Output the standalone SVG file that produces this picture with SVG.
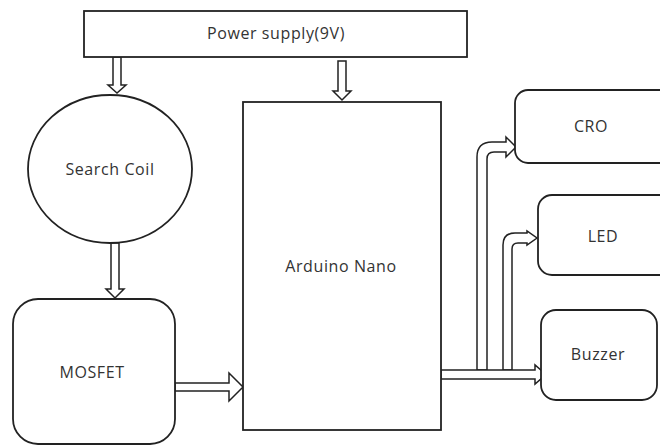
<svg xmlns="http://www.w3.org/2000/svg" width="660" height="446" viewBox="0 0 660 446">
<style>
.box{fill:#fff;stroke:#222;stroke-width:1.8}
.arr{fill:#fff;stroke:#222;stroke-width:1.5;stroke-linejoin:miter}
.lbl{font-family:"Open Sans","Noto Sans",sans-serif;font-size:16px;letter-spacing:0.6px;fill:#333;text-anchor:middle}
</style>
<rect width="660" height="446" fill="#fff"/>
<g id="connectors">
<path class="arr" d="M113,57 V85 H108 L117,93 L126,85 H121 V57 Z"/>
<path class="arr" d="M338,61 V91 H333 L342,100 L351,91 H346 V61 Z"/>
<path class="arr" d="M111,243 V289 H106 L115,298 L124,289 H119 V243 Z"/>
<path class="arr" d="M175,383 H229 V373 L243,387 L229,401 V391 H175 Z"/>
<path class="arr" d="M477,370 V157 Q477,142 492,142 H506 V137 L516,147 L506,157 V152 H494 Q487,152 487,159 V370 Z"/>
<path class="arr" d="M503,370 V245 Q503,233 515,233 H527 V231 L537,238 L527,245 V243 H518 Q512,243 512,249 V370 Z"/>
<path class="arr" d="M441,370 H535 V365 L546,374.5 L535,384 V379 H441 Z"/>
</g>
<g id="power">
<rect class="box" x="84" y="11" width="383" height="46"/>
<text class="lbl" x="276" y="39">Power supply(9V)</text>
</g>
<g id="coil">
<ellipse class="box" cx="110" cy="169" rx="82" ry="74"/>
<text class="lbl" x="110" y="175">Search Coil</text>
</g>
<g id="mosfet">
<rect class="box" x="13" y="299" width="162" height="145" rx="25"/>
<text class="lbl" x="92" y="378">MOSFET</text>
</g>
<g id="arduino">
<rect class="box" x="243" y="102" width="198" height="328"/>
<text class="lbl" x="341" y="272">Arduino Nano</text>
</g>
<g id="cro">
<rect class="box" x="515" y="90" width="160" height="73" rx="13"/>
<text class="lbl" x="591" y="132">CRO</text>
</g>
<g id="led">
<rect class="box" x="538" y="195" width="140" height="80" rx="14"/>
<text class="lbl" x="603" y="242">LED</text>
</g>
<g id="buzzer">
<rect class="box" x="541" y="310" width="116" height="90" rx="15"/>
<text class="lbl" x="598" y="360">Buzzer</text>
</g>
</svg>
